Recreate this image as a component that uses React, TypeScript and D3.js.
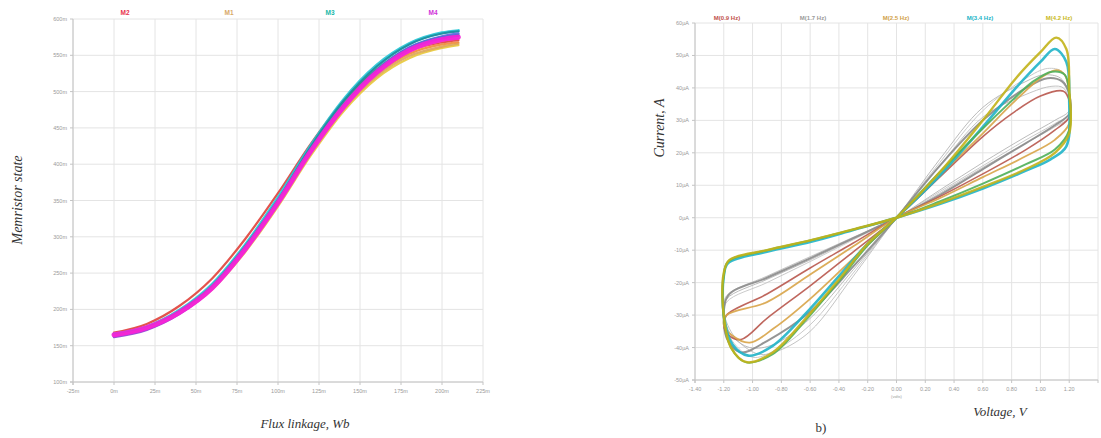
import React from "react";
import * as d3 from "d3";

// ---- left panel: memristor state vs flux linkage ----
const fluxTicks = [-25, 0, 25, 50, 75, 100, 125, 150, 175, 200, 225];
const stateTicks = [100, 150, 200, 250, 300, 350, 400, 450, 500, 550, 600];
const fluxX = [0, 20, 40, 60, 80, 100, 120, 140, 160, 180, 200, 210];

const stateYellow = [166, 175, 195, 228, 279, 342, 412, 473, 518, 546, 560, 564];
const stateTan = [165, 175, 196, 230, 282, 345, 415, 476, 521, 549, 562, 566];
const stateOrange = [166, 176, 197, 231, 283, 347, 418, 479, 524, 552, 565, 568];
const stateRed = [168, 180, 205, 243, 297, 360, 428, 487, 530, 556, 568, 571];
const stateGreen = [165, 175, 197, 232, 285, 349, 421, 483, 530, 560, 575, 578];
const stateCyan = [166, 176, 199, 235, 289, 354, 426, 489, 536, 566, 581, 584];
const stateTeal = [165, 175, 198, 233, 287, 351, 424, 487, 534, 565, 580, 583];
const stateBlue = [163, 173, 195, 230, 283, 347, 419, 481, 529, 561, 576, 580];
const statePurple = [162, 172, 194, 229, 282, 346, 418, 480, 527, 558, 573, 577];
const statePink = [164, 174, 195, 229, 282, 346, 417, 478, 525, 555, 570, 573];
const stateMagenta = [165, 175, 196, 230, 283, 347, 418, 479, 526, 557, 572, 575];

const leftSeries = [
  { color: "#e8c838", w: 2.2, values: stateYellow },
  { color: "#dca558", w: 2.2, values: stateTan },
  { color: "#f08c34", w: 2.2, values: stateOrange },
  { color: "#e0403a", w: 2.2, values: stateRed },
  { color: "#3cb371", w: 2.2, values: stateGreen },
  { color: "#22c6d6", w: 3, values: stateCyan },
  { color: "#1b8c9c", w: 2.2, values: stateTeal },
  { color: "#5565e0", w: 2.5, values: stateBlue },
  { color: "#9244d4", w: 2.5, values: statePurple },
  { color: "#ff56b8", w: 2.5, values: statePink },
  { color: "#f421d8", w: 5, values: stateMagenta },
];

const leftLegend = [
  { label: "M2", color: "#e8304a", x: 125 },
  { label: "M1", color: "#d8a868", x: 229 },
  { label: "M3", color: "#18b8a8", x: 330 },
  { label: "M4", color: "#d030d8", x: 433 },
];

// ---- right panel: current vs voltage (pinched hysteresis) ----
const voltTicks = [-1.4, -1.2, -1.0, -0.8, -0.6, -0.4, -0.2, 0, 0.2, 0.4, 0.6, 0.8, 1.0, 1.2, 1.4];
const voltLabels = [-1.4, -1.2, -1.0, -0.8, -0.6, -0.4, -0.2, 0, 0.2, 0.4, 0.6, 0.8, 1.0, 1.2];
const currentTicks = [-50, -40, -30, -20, -10, 0, 10, 20, 30, 40, 50, 60];

const greyThin1V = [0, 0.3, 0.6, 0.9, 1.1, 1.2, 1.2, 1.15, 1.05, 0.9, 0.6, 0.3, 0, -0.3, -0.6, -0.85, -1.0, -1.14, -1.2, -1.18, -0.9, -0.6, -0.3];
const greyThin1I = [0, 8, 16, 24, 29, 32, 39, 45, 46, 43, 33, 17, 0, -17, -33, -41, -43, -38, -31, -26, -20, -13.5, -6.8];
const greyThin2V = [0, 0.3, 0.6, 0.9, 1.1, 1.2, 1.2, 1.16, 1.08, 0.9, 0.6, 0.3, 0, -0.3, -0.6, -0.82, -0.96, -1.12, -1.2, -1.18, -0.9, -0.6, -0.3];
const greyThin2I = [0, 7.5, 15.5, 23, 28, 31, 36, 40, 40.5, 38, 31, 16, 0, -18, -35, -41, -42, -37, -29, -24, -18, -12, -6];
const greyThin3V = [0, 0.3, 0.6, 0.9, 1.1, 1.2, 1.2, 1.14, 1.02, 0.9, 0.6, 0.3, 0, -0.3, -0.6, -0.85, -1.02, -1.15, -1.2, -1.18, -0.9, -0.6, -0.3];
const greyThin3I = [0, 8.5, 17, 25, 30, 33, 38, 43, 44, 42, 34, 18, 0, -16, -31, -39, -40, -36, -29, -25, -19, -13, -6.5];
const greyDarkV = [0, 0.3, 0.6, 0.9, 1.1, 1.2, 1.2, 1.15, 1.05, 0.9, 0.6, 0.3, 0, -0.3, -0.6, -0.9, -1.08, -1.17, -1.2, -1.17, -0.9, -0.6, -0.3];
const greyDarkI = [0, 7, 15, 23, 28.5, 32, 38, 42, 43, 40, 30, 16, 0, -15, -29, -38, -41.5, -38, -32, -24, -18.5, -12.5, -6.3];
const redV = [0, 0.3, 0.6, 0.9, 1.1, 1.2, 1.2, 1.16, 1.0, 0.8, 0.6, 0.3, 0, -0.3, -0.6, -0.9, -1.08, -1.17, -1.2, -1.18, -0.9, -0.6, -0.3];
const redI = [0, 6.5, 13.5, 21, 27, 31, 36, 39, 37.5, 32, 25, 12.5, 0, -10.5, -21, -31, -37.5, -36, -33, -30, -23.5, -15.5, -7.8];
const tanV = [0, 0.3, 0.6, 0.9, 1.1, 1.2, 1.2, 1.17, 1.11, 1.0, 0.8, 0.6, 0.3, 0, -0.3, -0.6, -0.85, -1.02, -1.15, -1.2, -1.18, -0.9, -0.6, -0.3];
const tanI = [0, 6, 12.5, 19, 24, 29, 38, 44, 45.5, 43, 35, 26, 13, 0, -12.5, -25, -34, -38.5, -36, -33, -30, -26, -17.5, -8.8];
const cyanV = [0, 0.3, 0.6, 0.9, 1.07, 1.18, 1.2, 1.18, 1.1, 1.0, 0.83, 0.6, 0.3, 0, -0.2, -0.4, -0.63, -0.86, -1.03, -1.14, -1.2, -1.2, -1.17, -0.9, -0.6, -0.3];
const cyanI = [0, 4.2, 9, 14.5, 18, 22, 36, 48, 52, 48, 40, 28, 13, 0, -8, -18, -29.5, -39.5, -42.5, -39, -30, -18, -14, -10.5, -7.5, -3.8];
const greenV = [0, 0.3, 0.6, 0.9, 1.1, 1.2, 1.2, 1.17, 1.08, 0.95, 0.8, 0.6, 0.3, 0, -0.2, -0.4, -0.63, -0.86, -1.05, -1.15, -1.2, -1.2, -1.17, -0.9, -0.6, -0.3];
const greenI = [0, 5, 10.5, 16.5, 21, 27, 38, 44, 45, 42, 36, 27.5, 14, 0, -8.5, -19.5, -31.5, -42, -44.5, -40, -31, -18, -13.5, -10, -7, -3.6];
const yellowV = [0, 0.3, 0.6, 0.9, 1.1, 1.2, 1.2, 1.18, 1.11, 1.0, 0.83, 0.6, 0.3, 0, -0.2, -0.4, -0.63, -0.86, -1.04, -1.15, -1.2, -1.2, -1.16, -0.9, -0.6, -0.3];
const yellowI = [0, 4.5, 9.5, 15, 20, 26, 40, 52, 55.5, 51, 43, 30, 14, 0, -8, -19, -31, -41.5, -44.5, -40, -30, -17, -13, -10, -7, -3.6];

const loops = [
  { color: "#c4c4c4", w: 1, v: greyThin1V, i: greyThin1I },
  { color: "#bcbcbc", w: 1, v: greyThin2V, i: greyThin2I },
  { color: "#b4b4b4", w: 1, v: greyThin3V, i: greyThin3I },
  { color: "#8a8a8a", w: 2, v: greyDarkV, i: greyDarkI },
  { color: "#b8564c", w: 1.6, v: redV, i: redI },
  { color: "#d8a448", w: 1.8, v: tanV, i: tanI },
  { color: "#20b4c8", w: 2.6, v: cyanV, i: cyanI },
  { color: "#4eaf5a", w: 2, v: greenV, i: greenI },
  { color: "#c2b21a", w: 2.4, v: yellowV, i: yellowI },
];

const rightLegend = [
  { label: "M(0.9 Hz)", color: "#c0504a", x: 727 },
  { label: "M(1.7 Hz)", color: "#9a9a9a", x: 813 },
  { label: "M(2.5 Hz)", color: "#d0a048", x: 896 },
  { label: "M(3.4 Hz)", color: "#20b4c8", x: 980 },
  { label: "M(4.2 Hz)", color: "#c8b820", x: 1059 },
];

const gridColor = "#e4e4e4";
const axisColor = "#c4c4c4";
const tickText = "#9a9a9a";

export default function App() {
  // left scales
  const lx = d3.scaleLinear().domain([-25, 225]).range([73, 483]);
  const ly = d3.scaleLinear().domain([100, 600]).range([382, 19]);
  const fluxLine = d3
    .line<number>()
    .x((_, k) => lx(fluxX[k]))
    .y((d) => ly(d))
    .curve(d3.curveMonotoneX);

  // right scales
  const rx = d3.scaleLinear().domain([-1.4, 1.4]).range([695, 1098]);
  const ry = d3.scaleLinear().domain([-50, 60]).range([380, 23]);
  const loopLine = d3
    .line<[number, number]>()
    .x((d) => rx(d[0]))
    .y((d) => ry(d[1]))
    .curve(d3.curveCatmullRomClosed.alpha(0.5));

  return (
    <svg
      width={1101}
      height={438}
      style={{ position: "absolute", left: 0, top: 0, background: "#fff" }}
      fontFamily="Liberation Sans, Arial, sans-serif"
    >
      {/* ---------- left panel ---------- */}
      <g>
        {fluxTicks.map((t) => (
          <line key={"lgx" + t} x1={lx(t)} x2={lx(t)} y1={ly(600)} y2={ly(100)} stroke={gridColor} />
        ))}
        {stateTicks.map((t) => (
          <line key={"lgy" + t} x1={lx(-25)} x2={lx(225)} y1={ly(t)} y2={ly(t)} stroke={gridColor} />
        ))}
        <line x1={lx(-25)} x2={lx(-25)} y1={ly(600)} y2={ly(100) + 3} stroke={axisColor} />
        <line x1={lx(-25) - 3} x2={lx(225)} y1={ly(100)} y2={ly(100)} stroke={axisColor} />
        {stateTicks.map((t) => (
          <g key={"lty" + t}>
            <line x1={lx(-25) - 3} x2={lx(-25)} y1={ly(t)} y2={ly(t)} stroke={axisColor} />
            <text x={lx(-25) - 6} y={ly(t) + 2} fontSize={5.5} fill={tickText} textAnchor="end">
              {t}m
            </text>
          </g>
        ))}
        {fluxTicks.map((t) => (
          <g key={"ltx" + t}>
            <line x1={lx(t)} x2={lx(t)} y1={ly(100)} y2={ly(100) + 3} stroke={axisColor} />
            <text x={lx(t)} y={ly(100) + 11} fontSize={5.5} fill={tickText} textAnchor="middle">
              {t}m
            </text>
          </g>
        ))}
        {leftSeries.map((s, k) => (
          <path
            key={"ls" + k}
            d={fluxLine(s.values) || ""}
            fill="none"
            stroke={s.color}
            strokeWidth={s.w}
            strokeLinecap="round"
            opacity={0.9}
          />
        ))}
        {leftLegend.map((l) => (
          <text key={l.label} x={l.x} y={15} fontSize={6.5} fontWeight="bold" fill={l.color} textAnchor="middle">
            {l.label}
          </text>
        ))}
        <text
          transform="translate(22,200) rotate(-90)"
          textAnchor="middle"
          fontFamily="Liberation Serif, serif"
          fontStyle="italic"
          fontSize={14}
          fill="#333"
        >
          Memristor state
        </text>
        <text
          x={305}
          y={428}
          textAnchor="middle"
          fontFamily="Liberation Serif, serif"
          fontStyle="italic"
          fontSize={13}
          fill="#333"
        >
          Flux linkage, Wb
        </text>
      </g>

      {/* ---------- right panel ---------- */}
      <g>
        {voltTicks.map((t) => (
          <line key={"rgx" + t} x1={rx(t)} x2={rx(t)} y1={ry(60)} y2={ry(-50)} stroke={gridColor} />
        ))}
        {currentTicks.map((t) => (
          <line key={"rgy" + t} x1={rx(-1.4)} x2={rx(1.4)} y1={ry(t)} y2={ry(t)} stroke={gridColor} />
        ))}
        <line x1={rx(-1.4)} x2={rx(-1.4)} y1={ry(60)} y2={ry(-50) + 3} stroke={axisColor} />
        <line x1={rx(-1.4) - 3} x2={rx(1.4)} y1={ry(-50)} y2={ry(-50)} stroke={axisColor} />
        {currentTicks.map((t) => (
          <g key={"rty" + t}>
            <line x1={rx(-1.4) - 3} x2={rx(-1.4)} y1={ry(t)} y2={ry(t)} stroke={axisColor} />
            <text x={rx(-1.4) - 6} y={ry(t) + 2} fontSize={5.5} fill={tickText} textAnchor="end">
              {t}µA
            </text>
          </g>
        ))}
        {voltTicks.map((t) => (
          <line key={"rtk" + t} x1={rx(t)} x2={rx(t)} y1={ry(-50)} y2={ry(-50) + 3} stroke={axisColor} />
        ))}
        {voltLabels.map((t) => (
          <text key={"rtx" + t} x={rx(t)} y={ry(-50) + 11} fontSize={5.5} fill={tickText} textAnchor="middle">
            {t.toFixed(2)}
          </text>
        ))}
        <text x={rx(0)} y={ry(-50) + 18} fontSize={4} fill={tickText} textAnchor="middle">
          (volts)
        </text>
        {loops.map((l, k) => (
          <path
            key={"rl" + k}
            d={loopLine(l.v.map((v, j) => [v, l.i[j]] as [number, number])) || ""}
            fill="none"
            stroke={l.color}
            strokeWidth={l.w}
            opacity={0.9}
          />
        ))}
        {rightLegend.map((l) => (
          <text key={l.label} x={l.x} y={20} fontSize={6} fontWeight="bold" fill={l.color} textAnchor="middle">
            {l.label}
          </text>
        ))}
        <text
          transform="translate(664,128) rotate(-90)"
          textAnchor="middle"
          fontFamily="Liberation Serif, serif"
          fontStyle="italic"
          fontSize={14}
          fill="#333"
        >
          Current, A
        </text>
        <text
          x={1000}
          y={416}
          textAnchor="middle"
          fontFamily="Liberation Serif, serif"
          fontStyle="italic"
          fontSize={13}
          fill="#333"
        >
          Voltage, V
        </text>
        <text x={821} y={432} textAnchor="middle" fontFamily="Liberation Serif, serif" fontSize={13} fill="#333">
          b)
        </text>
      </g>
    </svg>
  );
}
